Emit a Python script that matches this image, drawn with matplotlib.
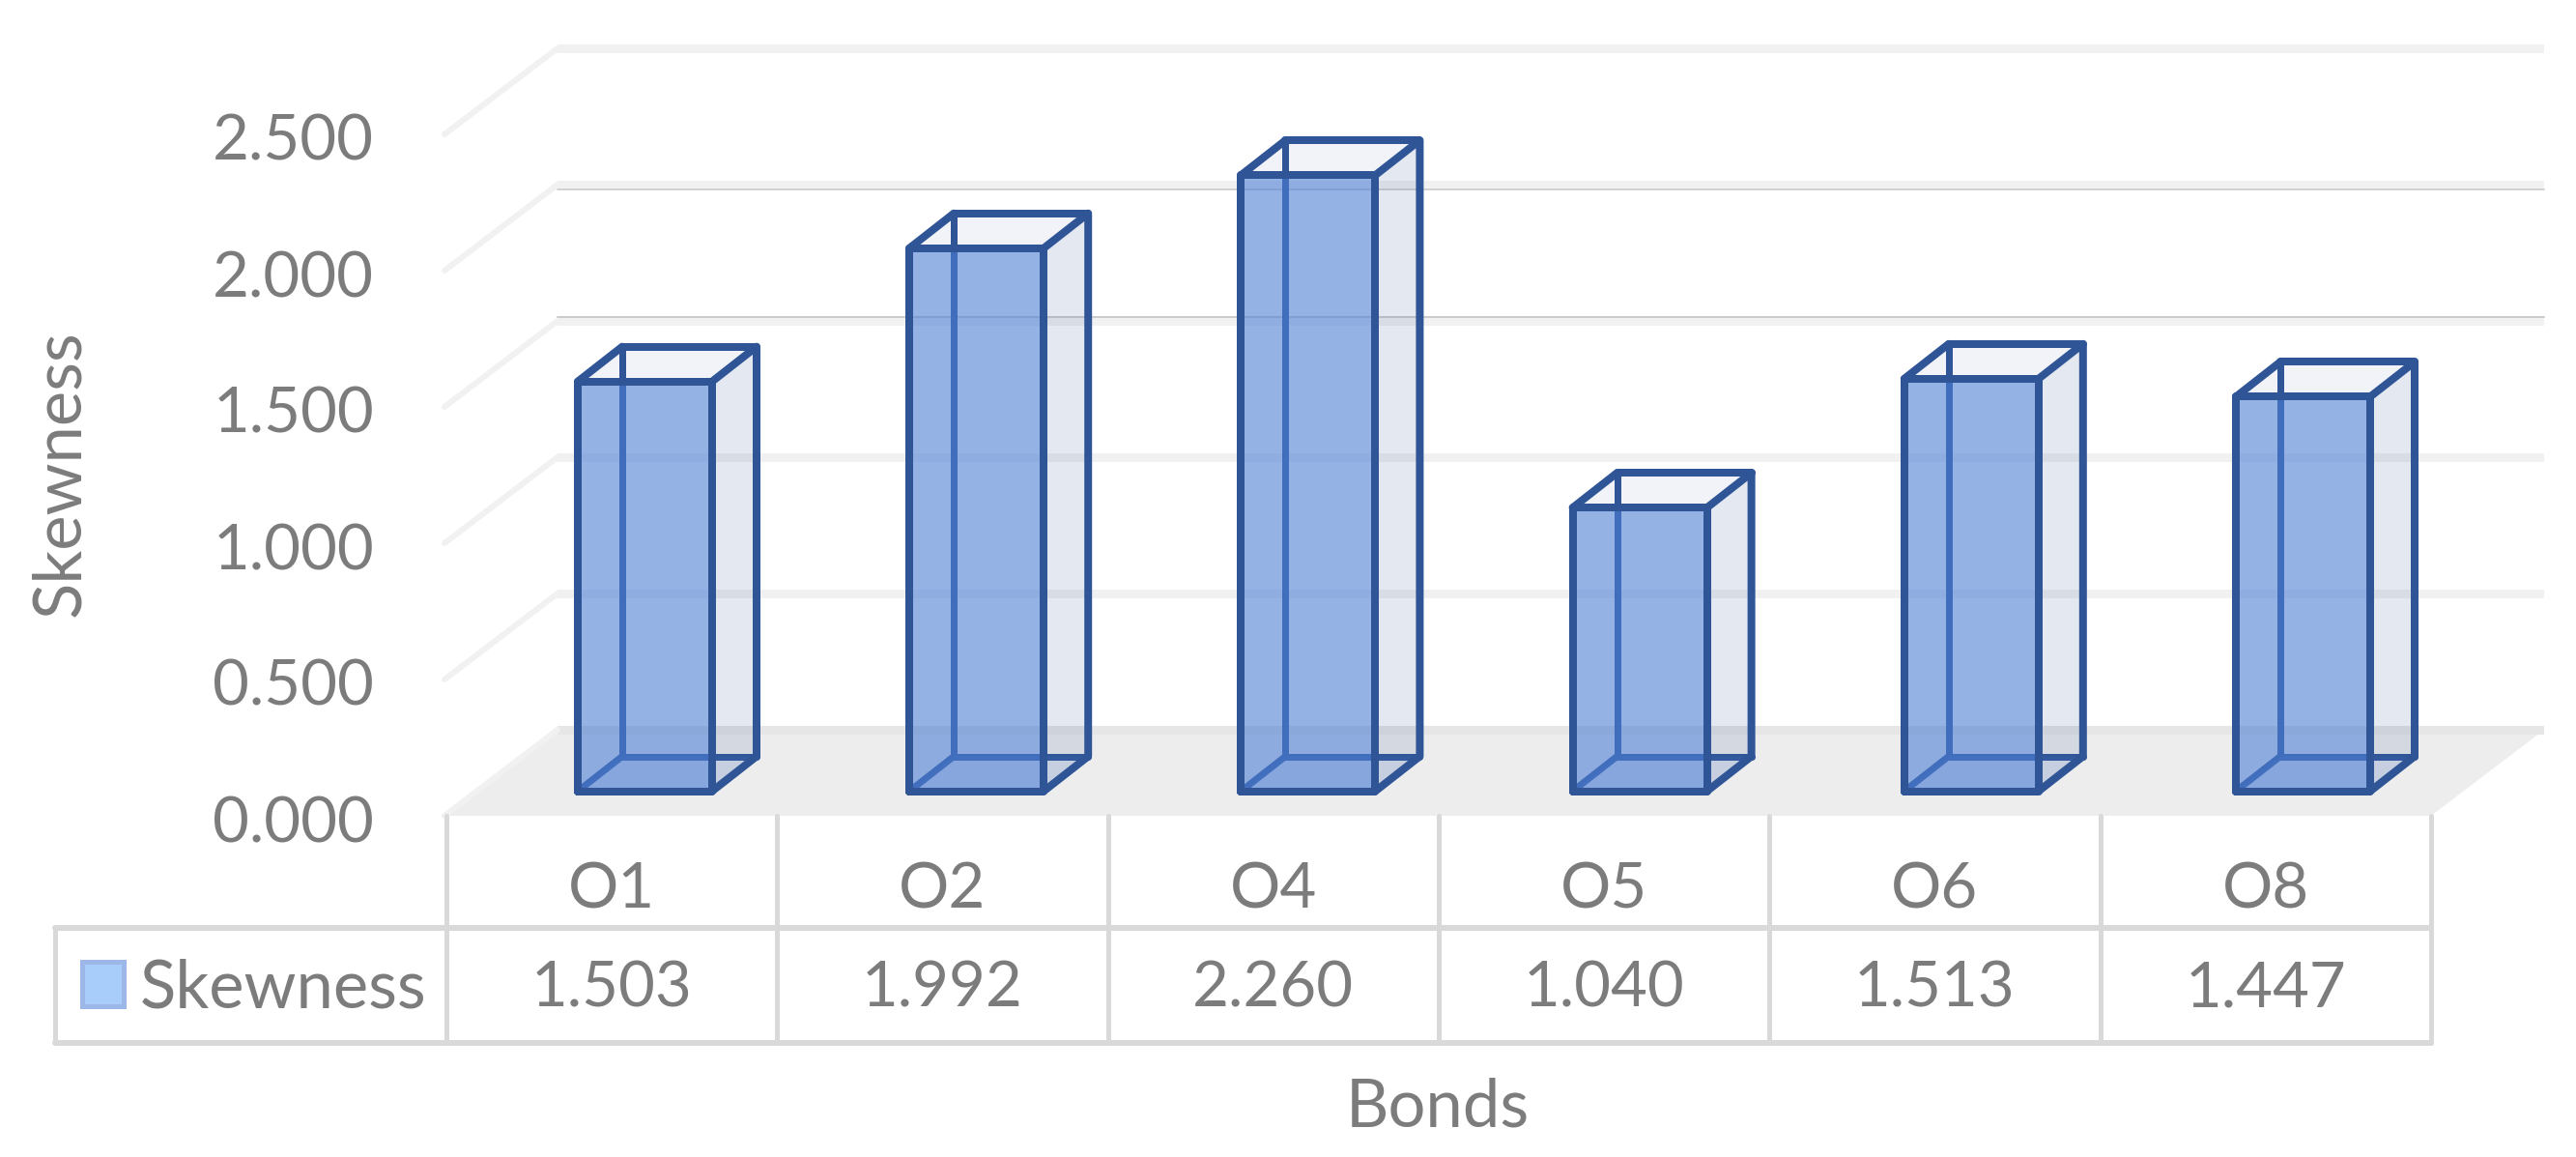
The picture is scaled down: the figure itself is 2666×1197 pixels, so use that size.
import matplotlib
matplotlib.use('Agg')
import matplotlib.pyplot as plt
from matplotlib.patches import Polygon, Rectangle

plt.rcParams['font.family'] = ['Lato', 'DejaVu Sans']

categories = ['O1', 'O2', 'O4', 'O5', 'O6', 'O8']
skewness = [1.503, 1.992, 2.260, 1.040, 1.513, 1.447]
yticks = [0.0, 0.5, 1.0, 1.5, 2.0, 2.5]
seriesName = 'Skewness'
xTitle = 'Bonds'
yTitle = 'Skewness'

textColor = '#7c7c7c'
tableColor = '#d9d9d9'
edgeColor = '#2f5597'

W, H = 2666, 1197
# axes fills the figure, x = category index, y = value on the front plane of the bars
stepPx = 343.2
unitPx = 282.0
x0Px = 667.5
y0Px = 818.5

fig = plt.figure(figsize=(W / 100, H / 100), dpi=100)
ax = fig.add_axes([0, 0, 1, 1])
ax.set_xlim(-x0Px / stepPx, (W - x0Px) / stepPx)
ax.set_ylim((y0Px - H) / unitPx, y0Px / unitPx)
ax.axis('off')


def px(n):
    return n * 0.72


def X(p):
    return (p - x0Px) / stepPx


def Y(p):
    return (y0Px - p) / unitPx


def face(pts, color, alpha, z):
    ax.add_patch(Polygon(pts, closed=True, facecolor=color, alpha=alpha, edgecolor='none', zorder=z))


def edge(xs, ys, color, z, width=8):
    ax.plot(xs, ys, color=color, lw=px(width), solid_capstyle='round', solid_joinstyle='round', zorder=z)


# walls, gridlines and floor
wallLeft, wallRight = X(577), X(2633)
frontLeft, frontRight = X(460), X(2516)
wallBase = Y(755)
frontBase = Y(844)

face([(frontLeft, frontBase), (frontRight, frontBase), (wallRight, wallBase), (wallLeft, wallBase)],
     '#ededed', 1, 1)

for tick in yticks:
    wy = wallBase + tick
    fy = frontBase + tick
    band = 4.5 / unitPx
    ax.add_patch(Rectangle((wallLeft, wy - band), wallRight - wallLeft, 2 * band,
                           facecolor='#e6e6e6' if tick == 0 else '#f1f1f1', edgecolor='none', zorder=2))
    if tick == 2.0:
        edge([wallLeft, wallRight], [wy - band, wy - band], '#d2d2d2', 2, 2)
    if tick == 1.5:
        edge([wallLeft, wallRight], [wy + band, wy + band], '#cccccc', 2, 2)
    edge([frontLeft, wallLeft], [fy, wy], '#f1f1f1', 2, 6)
    ax.text(X(387), fy - 3 / unitPx, '%.3f' % tick, ha='right', va='center_baseline', fontsize=47,
            color=textColor)

# bars
barW = 139 / stepPx / 2
depthX = 46 / stepPx
depthY = 36 / unitPx

for i, val in enumerate(skewness):
    l, r = i - barW, i + barW
    bl, br = l + depthX, r + depthX
    # back edges, seen through the front face
    edge([bl, bl], [depthY, val + depthY], edgeColor, 3, 7)
    edge([bl, br], [depthY, depthY], edgeColor, 3, 7)
    edge([l, bl], [0, depthY], edgeColor, 3, 7)
    edge([bl, br], [val + depthY, val + depthY], edgeColor, 6)
    # faces
    face([(r, 0), (br, depthY), (br, val + depthY), (r, val)], '#3f5f9f', 0.14, 4)
    face([(l, val), (r, val), (br, val + depthY), (bl, val + depthY)], '#3f5f9f', 0.07, 4)
    face([(l, 0), (r, 0), (br, depthY), (bl, depthY)], '#4e80d5', 0.1, 4)
    face([(l, 0), (r, 0), (r, val), (l, val)], '#4e80d5', 0.6, 5)
    # front and right edges
    edge([l, r, r, l, l], [0, 0, val, val, 0], edgeColor, 6)
    edge([r, br, br, r], [0, depthY, val + depthY, val], edgeColor, 6)
    edge([l, bl], [val, val + depthY], edgeColor, 6)

# data table
colLines = [X(462) + j * (X(2516) - X(462)) / len(categories) for j in range(len(categories) + 1)]
tableLeft = X(57)
rowMid, rowBottom = Y(960), Y(1079)

edge([tableLeft, colLines[-1]], [rowMid, rowMid], tableColor, 7, 6)
edge([tableLeft, colLines[-1]], [rowBottom, rowBottom], tableColor, 7, 6)
edge([tableLeft, tableLeft], [rowMid, rowBottom], tableColor, 7, 5)
for c in colLines:
    edge([c, c], [frontBase, rowBottom], tableColor, 7, 5)

for j, name in enumerate(categories):
    cx = (colLines[j] + colLines[j + 1]) / 2
    ax.text(cx, Y(916), name, ha='center', va='center_baseline', fontsize=47, color=textColor)
    ax.text(cx, Y(1017), '%.3f' % skewness[j], ha='center', va='center_baseline', fontsize=47, color=textColor)

ax.add_patch(Rectangle((X(85), Y(1041)), X(128) - X(85), Y(995) - Y(1041), facecolor='#a9cdfb',
                       edgecolor='#9db8e8', lw=px(5), zorder=8))
ax.text(X(145), Y(1017), seriesName, ha='left', va='center_baseline', fontsize=49.5, color=textColor)

# axis titles
ax.text(X(63), Y(490), yTitle, rotation=90, ha='center', va='center', fontsize=49.5, color=textColor)
ax.text(X(1488), Y(1146), xTitle, ha='center', va='center', fontsize=49.5, color=textColor)

fig.savefig('out.png', dpi=100)
